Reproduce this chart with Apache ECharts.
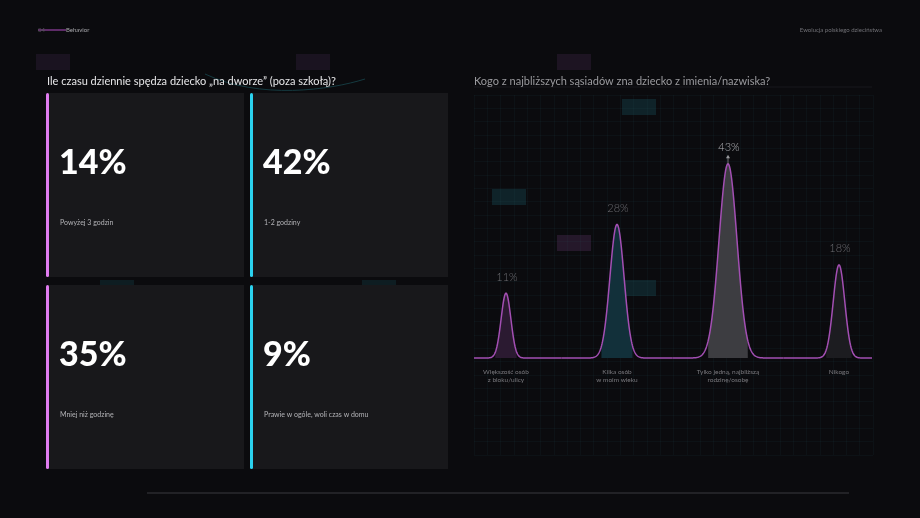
<!DOCTYPE html>
<html>
<head>
<meta charset="utf-8">
<script src="https://cdn.jsdelivr.net/npm/echarts@6/dist/echarts.min.js"></script>
<style>
  html, body { margin: 0; padding: 0; background: #0b0b0e; }
  #main { width: 920px; height: 518px; }
</style>
</head>
<body>
<div id="main"></div>
<script>
// left panel: time spent outdoors
const cardValues = [14, 42, 35, 9];
const cardLabels = ['Powyżej 3 godzin', '1-2 godziny', 'Mniej niż godzinę', 'Prawie w ogóle, woli czas w domu'];

// right panel: neighbours known by name
const neighbourCategories = ['Większość osób\nz bloku/ulicy', 'Kilka osób\nw moim wieku', 'Tylko jedną, najbliższą\nrodzinę/osobę', 'Nikogo'];
const neighbourValues = [11, 28, 43, 18];

const leftTitle = 'Ile czasu dziennie spędza dziecko „na dworze” (poza szkołą)?';
const rightTitle = 'Kogo z najbliższych sąsiadów zna dziecko z imienia/nazwiska?';

var myChart = echarts.init(document.getElementById('main'));
var option;

var accent = ['#e07cef', '#2bd2ef'];
var peakFill = ['#2b1a31', '#12303a', '#3d3d41', '#1c1c20'];
var maxVal = Math.max.apply(null, neighbourValues);
var yMin = -5;

function renderPeak(params, api) {
  var i = api.value(0);
  var v = api.value(1);
  var top = api.coord([i, v]);
  var base = api.coord([i, yMin]);
  var cx = top[0], by = base[1], h = by - top[1];
  var s = 2.8 + 0.032 * h;
  var cs = params.coordSys;
  var n = neighbourValues.length;
  var left = i === 0 ? cs.x - 32 : (api.coord([i - 1, 0])[0] + cx) / 2;
  var right = i === n - 1 ? cs.x + cs.width + 33 : (api.coord([i + 1, 0])[0] + cx) / 2;
  var curve = function (x) {
    return by - h * Math.exp(-Math.pow(x - cx, 2) / (2 * s * s));
  };
  var pts = [];
  for (var x = left; x <= right; x += 0.5) pts.push([x, curve(x)]);
  var band = [[cx - 2.2 * s, by]];
  for (var bx = cx - 2.2 * s; bx <= cx + 2.2 * s; bx += 0.5) band.push([bx, curve(bx)]);
  band.push([cx + 2.2 * s, by]);

  var children = [
    { type: 'polygon', shape: { points: band }, style: { fill: peakFill[i] } },
    { type: 'polyline', shape: { points: pts }, style: { stroke: '#a34fb3', lineWidth: 1.5, fill: null } },
    {
      type: 'text',
      style: {
        text: v + '%', x: cx + 1, y: top[1] - 16,
        fill: v === maxVal ? '#b4b4b8' : '#6d6d72',
        fontSize: 11, fontFamily: 'Lato', fontWeight: 300,
        align: 'center', verticalAlign: 'middle'
      }
    }
  ];
  if (v === maxVal) {
    children.push({ type: 'line', shape: { x1: cx, y1: top[1] - 7, x2: cx, y2: top[1] }, style: { stroke: '#8a8a8e', lineWidth: 0.8 } });
    children.push({ type: 'polygon', shape: { points: [[cx - 2, top[1] - 5.5], [cx + 2, top[1] - 5.5], [cx, top[1] - 9]] }, style: { fill: '#9a9a9e' } });
  }
  return { type: 'group', children: children };
}

// cards
var graphics = [];
var deco = [
  [36, 54, '#1a1320'], [296, 54, '#1a1320'], [557, 54, '#1d1422'],
  [622, 99, '#0f2329'], [492, 189, '#0f2329'], [557, 235, '#25182a'],
  [622, 280, '#0f2329'], [100, 280, '#0e1d22'], [362, 280, '#0e1d22']
];
deco.forEach(function (d) {
  graphics.push({ type: 'rect', shape: { x: d[0], y: d[1], width: 34, height: 16 }, style: { fill: d[2] }, z: 0 });
});
graphics.push({
  type: 'bezierCurve',
  shape: { x1: 205, y1: 74, x2: 365, y2: 79, cpx1: 260, cpy1: 100, cpx2: 330, cpy2: 90 },
  style: { stroke: '#153a40', lineWidth: 1, fill: null }, z: 1
});

cardValues.forEach(function (val, k) {
  var col = k % 2, row = Math.floor(k / 2);
  var x = 47 + col * 204, y = 93 + row * 192;
  graphics.push({ type: 'rect', shape: { x: x, y: y, width: 197, height: 184 }, style: { fill: '#18181b' }, z: 2 });
  graphics.push({ type: 'rect', shape: { x: x - 1, y: y, width: 3, height: 184, r: 1.5 }, style: { fill: accent[col] }, z: 3 });
  graphics.push({
    type: 'text', z: 3,
    style: { text: val + '%', x: x + 12, y: y + 70, fill: '#ffffff', fontSize: 34, fontWeight: 900, fontFamily: 'Lato', verticalAlign: 'middle' }
  });
  graphics.push({
    type: 'text', z: 3,
    style: { text: cardLabels[k], x: x + 13, y: y + 130, fill: '#b3b3b7', fontSize: 7, fontFamily: 'Lato', verticalAlign: 'middle' }
  });
});

// header, titles, rules
graphics.push(
  { type: 'line', shape: { x1: 38, y1: 30, x2: 66, y2: 30 }, style: { stroke: '#b04cc0', lineWidth: 1 }, z: 3 },
  { type: 'text', z: 3, style: { text: '04', x: 38, y: 30, fill: '#55555a', fontSize: 6, fontFamily: 'Lato', verticalAlign: 'middle' } },
  { type: 'text', z: 3, style: { text: 'Behavior', x: 66, y: 30, fill: '#a8a8ac', fontSize: 6, fontFamily: 'Lato', verticalAlign: 'middle' } },
  { type: 'text', z: 3, style: { text: 'Ewolucja polskiego dzieciństwa', x: 882, y: 30, fill: '#707075', fontSize: 6, fontFamily: 'Lato', align: 'right', verticalAlign: 'middle' } },
  { type: 'text', z: 3, style: { text: leftTitle, x: 47, y: 81, fill: '#e6e6e8', fontSize: 11, fontFamily: 'Lato', verticalAlign: 'middle' } },
  { type: 'text', z: 3, style: { text: rightTitle, x: 474, y: 81, fill: '#9a9a9e', fontSize: 11, fontFamily: 'Lato', verticalAlign: 'middle' } },
  { type: 'line', shape: { x1: 474, y1: 87, x2: 872, y2: 87 }, style: { stroke: '#18181c', lineWidth: 1 }, z: 1 },
  { type: 'line', shape: { x1: 147, y1: 493, x2: 849, y2: 493 }, style: { stroke: '#3a3a3e', lineWidth: 1 }, z: 1 }
);

option = {
  backgroundColor: '#0b0b0e',
  animation: false,
  graphic: graphics,
  grid: [
    { left: 506, right: 81, top: 95, bottom: 160 },
    { left: 474, top: 95, width: 399, height: 360 }
  ],
  xAxis: [
    {
      type: 'category', gridIndex: 0, boundaryGap: false,
      data: neighbourCategories,
      axisLine: { show: false }, axisTick: { show: false }, splitLine: { show: false },
      axisLabel: { color: '#79797e', fontSize: 6.5, lineHeight: 8, margin: 10, fontFamily: 'Lato' }
    },
    {
      type: 'value', gridIndex: 1, min: 0, max: 30, interval: 1,
      axisLine: { show: false }, axisTick: { show: false }, axisLabel: { show: false },
      splitLine: { show: true, lineStyle: { color: 'rgba(40,95,100,0.17)', width: 0.6 } }
    }
  ],
  yAxis: [
    { type: 'value', gridIndex: 0, min: yMin, max: 60, show: false },
    {
      type: 'value', gridIndex: 1, min: 0, max: 27, interval: 1,
      axisLine: { show: false }, axisTick: { show: false }, axisLabel: { show: false },
      splitLine: { show: true, lineStyle: { color: 'rgba(40,95,100,0.17)', width: 0.6 } }
    }
  ],
  series: [
    {
      type: 'custom', xAxisIndex: 0, yAxisIndex: 0, z: 5,
      renderItem: renderPeak,
      data: neighbourValues.map(function (v, i) { return [i, v]; })
    },
    { type: 'scatter', xAxisIndex: 1, yAxisIndex: 1, data: [] }
  ]
};

option && myChart.setOption(option);
</script>
</body>
</html>
